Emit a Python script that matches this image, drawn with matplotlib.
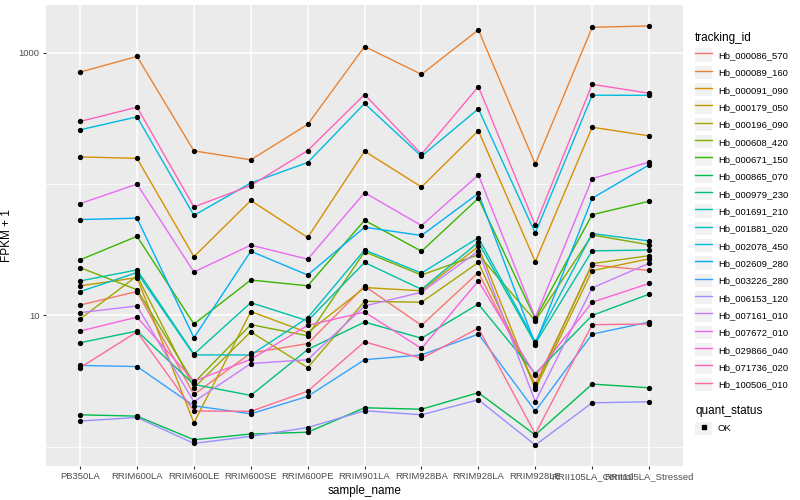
import matplotlib
matplotlib.use("Agg")
import matplotlib.pyplot as plt
import numpy as np
from matplotlib.lines import Line2D
from matplotlib.patches import Patch
from matplotlib.legend_handler import HandlerTuple
from matplotlib.ticker import FixedLocator, NullFormatter

plt.rcParams['font.family'] = ['Liberation Sans', 'DejaVu Sans']

samples = ['PB350LA', 'RRIM600LA', 'RRIM600LE', 'RRIM600SE', 'RRIM600PE',
           'RRIM901LA', 'RRIM928BA', 'RRIM928LA', 'RRIM928LE',
           'RRII105LA_Control', 'RRII105LA_Stressed']

tracking_ids = ['Hb_000086_570', 'Hb_000089_160', 'Hb_000091_090', 'Hb_000179_050',
                'Hb_000196_090', 'Hb_000608_420', 'Hb_000671_150', 'Hb_000865_070',
                'Hb_000979_230', 'Hb_001691_210', 'Hb_001881_020', 'Hb_002078_450',
                'Hb_002609_280', 'Hb_003226_280', 'Hb_006153_120', 'Hb_007161_010',
                'Hb_007672_010', 'Hb_029866_040', 'Hb_071736_020', 'Hb_100506_010']

# ggplot default hue palette for 20 levels
colors = ['#F8766D', '#EA8331', '#D89000', '#C09B00', '#A3A500', '#7CAE00', '#39B600',
          '#00BB4E', '#00BF7D', '#00C1A3', '#00BFC4', '#00BAE0', '#00B0F6', '#35A2FF',
          '#9590FF', '#C77CFF', '#E76BF3', '#FA62DB', '#FF62BC', '#FF6C91']

# FPKM + 1, one list per tracking_id (same order as samples)
hb_000086_570 = [12.0, 15.2, 2.5, 5.17, 6.1, 16.7, 8.4, 21.2, 3.0, 24.2, 22.0]
hb_000089_160 = [713, 937, 179, 153, 285, 1116, 685, 1494, 142, 1563, 1600]
hb_000091_090 = [161, 157, 28, 75, 39.2, 178, 95, 255, 25.6, 271, 233]
hb_000179_050 = [16.8, 19.4, 1.52, 10.7, 7.4, 16.3, 15.4, 33.5, 2.75, 21.9, 27.0]
hb_000196_090 = [9.4, 20.0, 2.81, 7.5, 4.0, 12.8, 12.6, 25.3, 2.86, 24.8, 28.5]
hb_000608_420 = [23.1, 15.7, 3.07, 8.5, 7.0, 30.5, 20.3, 29.0, 9.1, 41.0, 34.5]
hb_000671_150 = [26.5, 40, 8.6, 18.6, 16.8, 53, 30.8, 78, 9.4, 58.5, 74]
hb_000865_070 = [1.75, 1.71, 1.13, 1.25, 1.29, 1.98, 1.93, 2.58, 1.23, 3.0, 2.81]
hb_000979_230 = [6.2, 7.6, 2.98, 2.46, 5.5, 8.9, 6.7, 12.2, 3.6, 10.0, 14.5]
hb_001691_210 = [18.3, 22.2, 5.07, 12.5, 9.1, 25.3, 15.8, 36.0, 6.1, 31.0, 31.5]
hb_001881_020 = [15.2, 21.2, 5.0, 5.0, 9.6, 31.5, 21.0, 39.0, 6.3, 42.0, 36.9]
hb_002078_450 = [259, 325, 57.8, 102, 146, 411, 163, 374, 42.3, 475, 474]
hb_002609_280 = [53.7, 55, 6.76, 30.8, 20.3, 46.9, 40.6, 85, 6.0, 78, 140]
hb_003226_280 = [4.16, 4.08, 2.05, 1.78, 2.42, 4.6, 5.0, 7.2, 1.87, 7.2, 8.9]
hb_006153_120 = [1.57, 1.67, 1.06, 1.2, 1.4, 1.88, 1.75, 2.28, 1.03, 2.16, 2.2]
hb_007161_010 = [10.5, 11.8, 2.2, 4.3, 4.6, 11.8, 15.0, 31.0, 2.2, 16.2, 24.9]
hb_007672_010 = [71, 100, 21.4, 34.3, 26.8, 86, 48.3, 117.5, 9.6, 110, 147]
hb_029866_040 = [7.6, 9.7, 3.16, 4.63, 8.4, 10.6, 5.6, 18.3, 3.5, 12.6, 17.5]
hb_071736_020 = [300, 385, 67, 97.5, 180, 481, 169, 552, 48.5, 575, 492]
hb_100506_010 = [4.0, 7.5, 1.87, 1.86, 2.65, 6.3, 4.7, 8.0, 1.25, 8.5, 8.6]

series = [hb_000086_570, hb_000089_160, hb_000091_090, hb_000179_050, hb_000196_090,
          hb_000608_420, hb_000671_150, hb_000865_070, hb_000979_230, hb_001691_210,
          hb_001881_020, hb_002078_450, hb_002609_280, hb_003226_280, hb_006153_120,
          hb_007161_010, hb_007672_010, hb_029866_040, hb_071736_020, hb_100506_010]

fig = plt.figure(figsize=(8, 5), dpi=100)
ax = fig.add_axes([0.0575, 0.068, 0.7965, 0.922])
ax.set_facecolor('#EBEBEB')
for s in ax.spines.values():
    s.set_visible(False)

x = np.arange(len(samples))
for vals, col in zip(series, colors):
    ax.plot(x, vals, color=col, lw=1.0, zorder=3)
for vals in series:
    ax.plot(x, vals, 'o', color='black', ms=2.8, zorder=4)

ax.set_yscale('log')
allv = np.log10(np.concatenate([np.array(v, float) for v in series]))
lo, hi = allv.min(), allv.max()
pad = 0.05 * (hi - lo)
ax.set_ylim(10 ** (lo - pad), 10 ** (hi + pad))
ax.set_xlim(-0.6, len(samples) - 0.4)

ax.yaxis.set_major_locator(FixedLocator([10, 1000]))
ax.yaxis.set_minor_locator(FixedLocator([1, 100]))
ax.yaxis.set_minor_formatter(NullFormatter())
ax.set_yticklabels(['10', '1000'])
ax.set_xticks(x)
ax.set_xticklabels(samples)

ax.grid(which='major', color='white', lw=1.1, zorder=0)
ax.grid(which='minor', axis='y', color='white', lw=0.55, zorder=0)
ax.set_axisbelow(True)
ax.tick_params(which='major', length=2.5, width=0.8, color='#333333',
               labelsize=6.8, labelcolor='#4D4D4D', pad=2)
ax.tick_params(which='minor', length=0)

ax.set_xlabel('sample_name', fontsize=8.5, labelpad=3)
ax.set_ylabel('FPKM + 1', fontsize=8.5, labelpad=4)

box = Patch(facecolor='#F2F2F2', edgecolor='none')
handles = [(box, Line2D([], [], color=c, lw=1.0)) for c in colors]
leg1 = fig.legend(handles, tracking_ids, loc='upper left', bbox_to_anchor=(0.869, 0.935),
                  frameon=False, title='tracking_id', fontsize=6.8, title_fontsize=8.5,
                  handlelength=1.8, handleheight=1.8, labelspacing=0.42,
                  handletextpad=0.6, borderpad=0, borderaxespad=0,
                  handler_map={tuple: HandlerTuple(ndivide=1)})
leg1._legend_box.align = 'left'

ok_handle = (box, Line2D([], [], color='black', marker='s', ms=2.5, ls='none'))
leg2 = fig.legend([ok_handle], ['OK'], loc='upper left', bbox_to_anchor=(0.869, 0.19),
                  frameon=False, title='quant_status', fontsize=6.8, title_fontsize=8.5,
                  handlelength=1.8, handleheight=1.8, handletextpad=0.6,
                  borderpad=0, borderaxespad=0,
                  handler_map={tuple: HandlerTuple(ndivide=1)})
leg2._legend_box.align = 'left'

fig.savefig('out.png', dpi=100)
